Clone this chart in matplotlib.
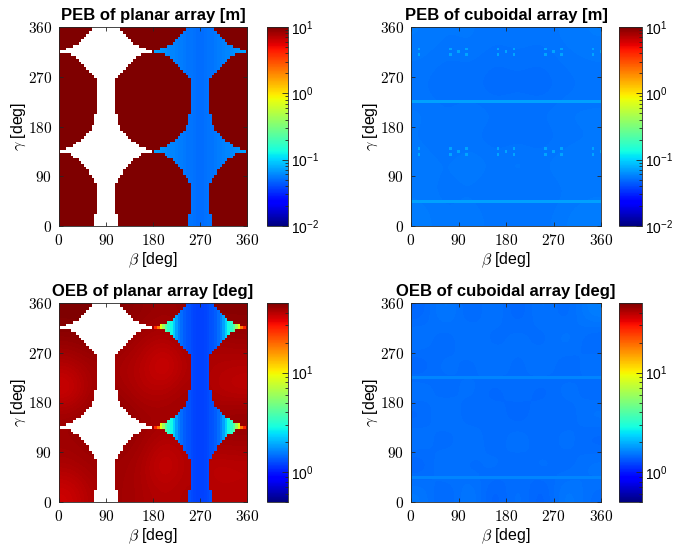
import numpy as np
import matplotlib
matplotlib.use('Agg')
import matplotlib.pyplot as plt
from matplotlib.colors import LogNorm, ListedColormap
from matplotlib.ticker import FixedLocator, FuncFormatter, LogLocator

plt.rcParams['font.family'] = ['Liberation Sans', 'DejaVu Sans']
plt.rcParams['mathtext.fontset'] = 'cm'

# angle grid (deg), 5 degree cells
beta_deg = np.arange(0, 361, 5)
gamma_deg = np.arange(0, 361, 5)

# half width (deg) of the white / blue vertical bands of the planar array, per gamma row
band_halfwidth = [22, 22, 22, 22, 22,
                  18, 18, 18, 18, 18, 18, 18, 18, 18, 18, 18,
                  20, 22, 26, 30, 33, 38, 42, 47, 52, 60, 68,
                  87, 76, 64, 55, 47, 41, 36, 32, 28, 25,
                  22, 21, 21, 21,
                  18, 18, 18, 18, 18, 18, 18, 18, 18, 18, 18, 18, 18,
                  24, 28, 32, 36, 40, 45, 50, 57, 66,
                  86, 76, 62, 52, 46, 40, 35, 31, 28, 26]
white_centre = 90
blue_centre = 270

# values inside the blue band vs distance from its centre (0, 5, ... 90 deg)
peb_band_values = [0.05, 0.05, 0.051, 0.052, 0.052, 0.053, 0.054, 0.055, 0.056, 0.057,
                   0.058, 0.059, 0.06, 0.062, 0.064, 0.066, 0.068, 0.07, 0.072]
oeb_band_values = [1.2, 1.2, 1.22, 1.25, 1.28, 1.3, 1.35, 1.45, 1.6, 1.85,
                   2.3, 2.8, 3.2, 4.0, 6.0, 9.0, 18.0, 28.0, 35.0]

# coarse background fields, 8x8 cells of 45 deg (rows: gamma from 0 up, cols: beta from 0)
peb_planar_bg = [[9, 20, 20, 20, 15, 20, 20, 9],
                 [20, 20, 20, 20, 8, 20, 20, 15],
                 [20, 20, 20, 20, 20, 20, 20, 20],
                 [20, 20, 20, 20, 20, 20, 20, 20],
                 [8, 20, 20, 20, 20, 20, 20, 8],
                 [20, 20, 20, 15, 8, 20, 20, 20],
                 [20, 20, 20, 20, 20, 20, 20, 20],
                 [20, 20, 20, 20, 20, 20, 20, 20]]
oeb_planar_bg = [[36, 42, 44, 42, 40, 42, 40, 40],
                 [42, 44, 44, 42, 35, 42, 38, 39],
                 [44, 46, 46, 44, 40, 42, 44, 44],
                 [44, 46, 48, 44, 44, 44, 44, 46],
                 [35, 44, 44, 40, 40, 44, 40, 38],
                 [40, 44, 42, 40, 34, 42, 41, 40],
                 [46, 48, 46, 42, 40, 44, 42, 44],
                 [50, 50, 48, 46, 44, 46, 48, 48]]
peb_cuboid_bg = [[0.056, 0.053, 0.055, 0.052, 0.054, 0.052, 0.055, 0.056],
                 [0.054, 0.052, 0.053, 0.051, 0.052, 0.051, 0.053, 0.054],
                 [0.055, 0.053, 0.056, 0.053, 0.055, 0.053, 0.056, 0.055],
                 [0.053, 0.051, 0.052, 0.050, 0.051, 0.050, 0.052, 0.053],
                 [0.054, 0.052, 0.054, 0.052, 0.053, 0.052, 0.054, 0.054],
                 [0.052, 0.050, 0.051, 0.049, 0.050, 0.049, 0.051, 0.052],
                 [0.053, 0.051, 0.052, 0.050, 0.051, 0.050, 0.052, 0.053],
                 [0.055, 0.053, 0.054, 0.052, 0.053, 0.052, 0.054, 0.055]]
oeb_cuboid_bg = [[1.55, 1.38, 1.60, 1.33, 1.55, 1.33, 1.60, 1.45],
                 [1.36, 1.60, 1.38, 1.56, 1.36, 1.56, 1.38, 1.55],
                 [1.56, 1.36, 1.60, 1.36, 1.60, 1.36, 1.56, 1.38],
                 [1.38, 1.60, 1.36, 1.55, 1.33, 1.55, 1.38, 1.56],
                 [1.55, 1.38, 1.56, 1.34, 1.55, 1.34, 1.56, 1.40],
                 [1.36, 1.56, 1.38, 1.60, 1.38, 1.60, 1.36, 1.55],
                 [1.56, 1.36, 1.60, 1.38, 1.56, 1.38, 1.60, 1.38],
                 [1.40, 1.60, 1.38, 1.56, 1.36, 1.56, 1.40, 1.60]]

# faint features of the cuboidal maps
cuboid_line_gamma = [45, 225]
peb_line_value = 0.07
oeb_line_value = 1.62
spot_centre_beta = [0, 90, 180, 270, 360]
spot_centre_gamma = [135, 315]
spot_side_beta = [15, 75, 105, 165, 195, 255, 285, 345]
spot_side_gamma = [130, 140, 310, 320]
spot_value = 0.072

peb_range = (1e-2, 1e1)
oeb_range = (0.5, 50)


def planar_layers(band_values):
    B, G = np.meshgrid(beta_deg, gamma_deg)
    hw = np.array(band_halfwidth)[:, None]
    white = np.where(np.abs(B - white_centre) <= hw, 1.0, np.nan)
    off = np.abs(B - blue_centre)
    idx = np.clip((off / 5).astype(int), 0, len(band_values) - 1)
    blue = np.where(off <= hw, np.array(band_values)[idx], np.nan)
    return white, blue


def cuboid_layer(line_value, with_spots):
    Z = np.full((len(gamma_deg), len(beta_deg)), np.nan)
    for g in cuboid_line_gamma:
        Z[list(gamma_deg).index(g), :] = line_value
    if with_spots:
        for g in spot_centre_gamma:
            for b in spot_centre_beta:
                Z[list(gamma_deg).index(g), list(beta_deg).index(b)] = spot_value
        for g in spot_side_gamma:
            for b in spot_side_beta:
                Z[list(gamma_deg).index(g), list(beta_deg).index(b)] = spot_value
    return Z


jet = plt.get_cmap('jet').copy()
jet.set_bad((0, 0, 0, 0))
whitemap = ListedColormap(['white'])
whitemap.set_bad((0, 0, 0, 0))

W, H = 673, 552
fig = plt.figure(figsize=(W / 100, H / 100), dpi=100)


def fr(x0, y0, x1, y1):
    return [x0 / W, 1 - y1 / H, (x1 - x0) / W, (y1 - y0) / H]


panels = [
    (fr(59, 27, 247, 226), fr(267, 27, 288, 226), 'PEB of planar array [m]', peb_planar_bg, 'planar', peb_band_values, peb_range, [1e-2, 1e-1, 1e0, 1e1]),
    (fr(411, 27, 601, 226), fr(619, 27, 642, 226), 'PEB of cuboidal array [m]', peb_cuboid_bg, 'cuboid', peb_line_value, peb_range, [1e-2, 1e-1, 1e0, 1e1]),
    (fr(59, 303, 247, 502), fr(267, 303, 288, 502), 'OEB of planar array [deg]', oeb_planar_bg, 'planar', oeb_band_values, oeb_range, [1e0, 1e1]),
    (fr(411, 303, 601, 502), fr(619, 303, 642, 502), 'OEB of cuboidal array [deg]', oeb_cuboid_bg, 'cuboid', oeb_line_value, oeb_range, [1e0, 1e1]),
]

edge = (0.15, 0.15, 0.15)
for i, (apos, cpos, title, bg, kind, extra, rng, cticks) in enumerate(panels):
    ax = fig.add_axes(apos)
    cax = fig.add_axes(cpos)
    norm = LogNorm(vmin=rng[0], vmax=rng[1])
    im = ax.imshow(np.array(bg, dtype=float), origin='lower', extent=[0, 360, 0, 360],
                   cmap=jet, norm=norm, interpolation='bicubic', aspect='auto')
    if kind == 'planar':
        white, blue = planar_layers(extra)
        ax.pcolormesh(beta_deg, gamma_deg, white, shading='nearest', cmap=whitemap, vmin=0, vmax=2)
        ax.pcolormesh(beta_deg, gamma_deg, blue, shading='nearest', cmap=jet, norm=norm)
    else:
        Z = cuboid_layer(extra, i == 1)
        ax.pcolormesh(beta_deg, gamma_deg, Z, shading='nearest', cmap=jet, norm=norm)
    ax.set_xlim(0, 360)
    ax.set_ylim(0, 360)
    ax.xaxis.set_major_locator(FixedLocator([0, 90, 180, 270, 360]))
    ax.yaxis.set_major_locator(FixedLocator([0, 90, 180, 270, 360]))
    fmt = FuncFormatter(lambda v, p: f'${v:.0f}$')
    ax.xaxis.set_major_formatter(fmt)
    ax.yaxis.set_major_formatter(fmt)
    ax.tick_params(direction='in', top=True, right=True, length=3, width=0.6,
                   labelsize=11, pad=5, colors=edge, labelcolor='black')
    for s in ax.spines.values():
        s.set_color(edge)
        s.set_linewidth(0.6)
    ax.set_title(title, fontsize=12, fontweight='bold', pad=5)
    ax.set_xlabel(r'$\beta$ [deg]', fontsize=11.5, labelpad=2)
    ax.set_ylabel(r'$\gamma$ [deg]', fontsize=11.5, labelpad=0)

    cb = fig.colorbar(im, cax=cax)
    cb.outline.set_linewidth(0.6)
    cb.outline.set_edgecolor(edge)
    cax.yaxis.set_major_locator(FixedLocator(cticks))
    cax.yaxis.set_minor_locator(LogLocator(base=10, subs=np.arange(2, 10)))
    cax.tick_params(which='both', direction='in', right=True, left=False, width=0.6,
                    colors=edge, labelcolor='black', labelsize=10, pad=2)
    cax.tick_params(which='major', length=4)
    cax.tick_params(which='minor', length=2)

fig.savefig('out.png', dpi=100)
